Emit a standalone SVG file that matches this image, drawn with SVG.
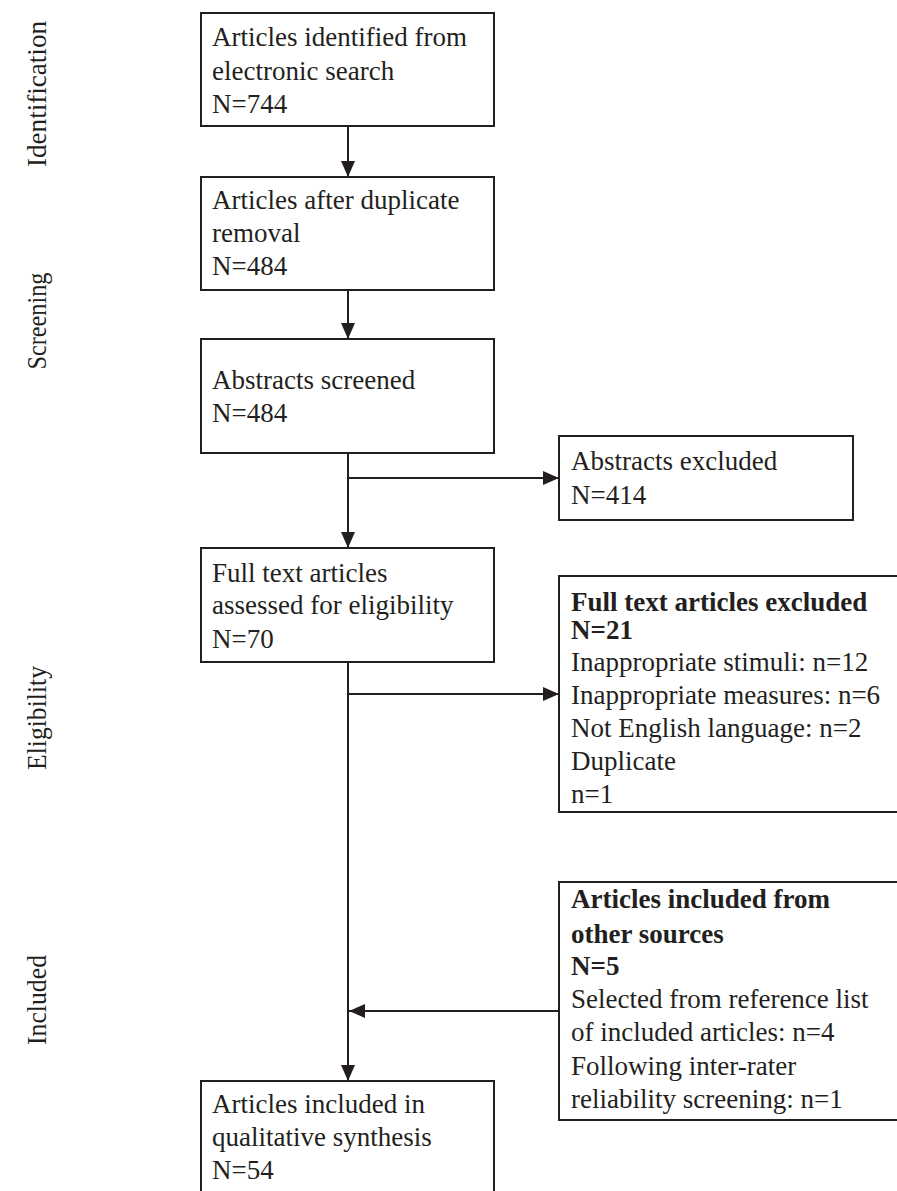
<svg xmlns="http://www.w3.org/2000/svg" width="897" height="1191" viewBox="0 0 897 1191">
<style>
.box{fill:#fff;stroke:#231f20;stroke-width:2}
.t{font-family:"Liberation Serif","Times New Roman",serif;font-size:27px;fill:#231f20}
.b{font-weight:bold}
.lab{font-family:"Liberation Serif","Times New Roman",serif;font-size:27px;fill:#231f20;text-anchor:middle}
.ln{fill:none;stroke:#231f20;stroke-width:2}
</style>
<defs>
<marker id="ah" markerUnits="userSpaceOnUse" markerWidth="16" markerHeight="14" refX="16" refY="7" orient="auto">
<path d="M0,0 L16,7 L0,14 Z" fill="#231f20"/>
</marker>
</defs>
<rect width="897" height="1191" fill="#fff"/>
<g id="labels">
<text class="lab" transform="translate(46,94) rotate(-90)" textLength="146" lengthAdjust="spacingAndGlyphs">Identification</text>
<text class="lab" transform="translate(46,321) rotate(-90)" textLength="97" lengthAdjust="spacingAndGlyphs">Screening</text>
<text class="lab" transform="translate(46,718) rotate(-90)" textLength="104" lengthAdjust="spacingAndGlyphs">Eligibility</text>
<text class="lab" transform="translate(46,1000) rotate(-90)" textLength="90" lengthAdjust="spacingAndGlyphs">Included</text>
</g>
<g id="connectors">
<line class="ln" x1="348" y1="126" x2="348" y2="177" marker-end="url(#ah)"/>
<line class="ln" x1="348" y1="290" x2="348" y2="339" marker-end="url(#ah)"/>
<line class="ln" x1="348" y1="453" x2="348" y2="548" marker-end="url(#ah)"/>
<line class="ln" x1="347" y1="478" x2="559" y2="478" marker-end="url(#ah)"/>
<line class="ln" x1="348" y1="662" x2="348" y2="1081" marker-end="url(#ah)"/>
<line class="ln" x1="347" y1="694" x2="559" y2="694" marker-end="url(#ah)"/>
<line class="ln" x1="559" y1="1011" x2="349" y2="1011" marker-end="url(#ah)"/>
</g>
<g id="n1">
<rect class="box" x="201" y="13" width="293" height="113"/>
<text class="t" x="212" y="46">Articles identified from</text>
<text class="t" x="212" y="80">electronic search</text>
<text class="t" x="212" y="113">N=744</text>
</g>
<g id="n2">
<rect class="box" x="201" y="177" width="293" height="113"/>
<text class="t" x="212" y="209">Articles after duplicate</text>
<text class="t" x="212" y="242">removal</text>
<text class="t" x="212" y="275">N=484</text>
</g>
<g id="n3">
<rect class="box" x="201" y="339" width="293" height="114"/>
<text class="t" x="212" y="389">Abstracts screened</text>
<text class="t" x="212" y="422">N=484</text>
</g>
<g id="n4">
<rect class="box" x="559" y="436" width="294" height="84"/>
<text class="t" x="571" y="470">Abstracts excluded</text>
<text class="t" x="571" y="504">N=414</text>
</g>
<g id="n5">
<rect class="box" x="201" y="548" width="293" height="114"/>
<text class="t" x="212" y="582">Full text articles</text>
<text class="t" x="212" y="614">assessed for eligibility</text>
<text class="t" x="212" y="648">N=70</text>
</g>
<g id="n6">
<rect class="box" x="559" y="576" width="345" height="236"/>
<text class="t b" x="571" y="611">Full text articles excluded</text>
<text class="t b" x="571" y="639">N=21</text>
<text class="t" x="571" y="671">Inappropriate stimuli: n=12</text>
<text class="t" x="571" y="704">Inappropriate measures: n=6</text>
<text class="t" x="571" y="737">Not English language: n=2</text>
<text class="t" x="571" y="770">Duplicate</text>
<text class="t" x="571" y="803">n=1</text>
</g>
<g id="n7">
<rect class="box" x="559" y="882" width="345" height="238"/>
<text class="t b" x="571" y="908">Articles included from</text>
<text class="t b" x="571" y="943">other sources</text>
<text class="t b" x="571" y="975">N=5</text>
<text class="t" x="571" y="1008">Selected from reference list</text>
<text class="t" x="571" y="1041">of included articles: n=4</text>
<text class="t" x="571" y="1075">Following inter-rater</text>
<text class="t" x="571" y="1108">reliability screening: n=1</text>
</g>
<g id="n8">
<rect class="box" x="201" y="1081" width="293" height="130"/>
<text class="t" x="212" y="1113">Articles included in</text>
<text class="t" x="212" y="1146">qualitative synthesis</text>
<text class="t" x="212" y="1179">N=54</text>
</g>
</svg>
